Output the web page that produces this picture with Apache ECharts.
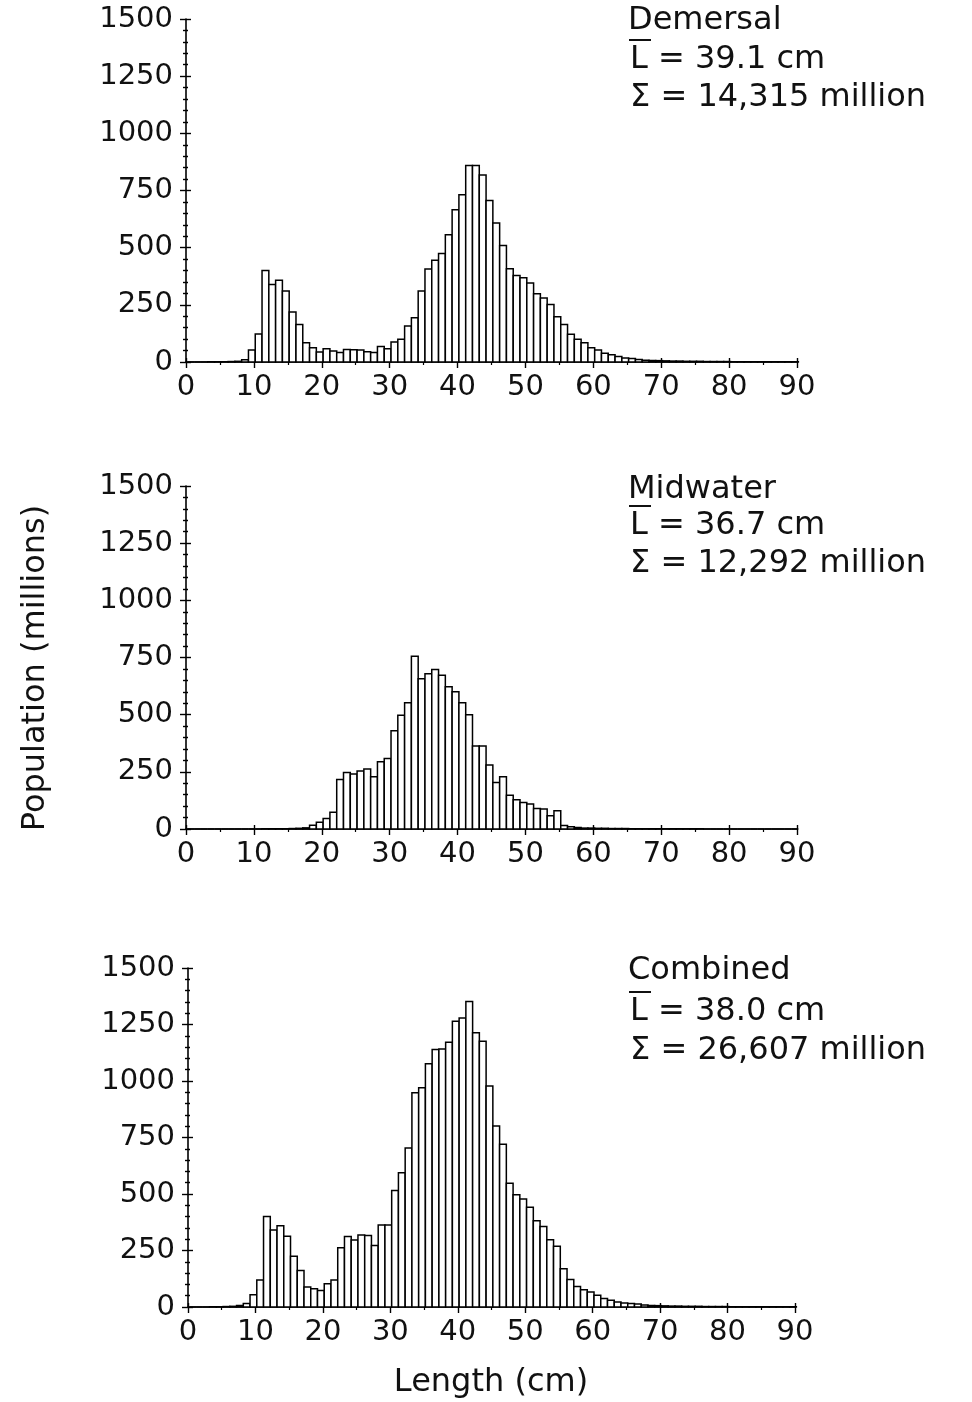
<!DOCTYPE html>
<html>
<head>
<meta charset="utf-8">
<script src="https://cdn.jsdelivr.net/npm/echarts@6/dist/echarts.min.js"></script>
<style>html,body{margin:0;padding:0;background:#fff}#c{width:972px;height:1402px}</style>
</head>
<body>
<div id="c"></div>
<script>
// Length classes (cm)
const lengths = [0,1,2,3,4,5,6,7,8,9,10,11,12,13,14,15,16,17,18,19,20,21,22,23,24,25,26,27,28,29,
30,31,32,33,34,35,36,37,38,39,40,41,42,43,44,45,46,47,48,49,50,51,52,53,54,55,56,57,58,59,
60,61,62,63,64,65,66,67,68,69,70,71,72,73,74,75,76,77,78,79,80,81,82,83,84,85,86,87,88,89];

const demersal = [0,0,0,1,1,1,2,3, 10,52,122,400,339,358,310,219, 164,84,62,44,58,48,41,55,
54,52,45,42,68,58,87,100, 157,193,310,407,445,474,557,666, 731,859,859,818,706,608,509,408,
378,368,346,298,280,251,198,164, 121,99,84,62,52,38,32,24, 18,15,11,8,7,6,5,4,
4,3,3,3,2,2,2,2, 1,1,1,1,1,1,1,1,1,1];

const midwater = [0,0,0,0,0,0,0,0, 0,0,0,1,1,1,1,2, 3,5,16,29,46,73,217,247,
240,254,262,228,294,308,430,497, 552,756,657,679,698,672,622,600, 552,500,363,363,280,203,228,148,
128,116,109,90,87,58,80,15, 10,7,4,4,3,3,2,2, 2,1,1,1,1,1,1,1,
1,1,1,1,0,0,0,0, 0,0,0,0,0,0,0,0,0,0];

const combined = [0,0,0,1,1,2,3,7, 15,54,120,400,341,360,313,225, 162,88,81,73,103,120,262,312,
297,319,316,272,363,363,516,594, 704,948,970,1076,1139,1142,1172,1264, 1279,1352,1213,1176,978,801,720,548,
497,478,441,382,356,298,269,169, 122,91,76,66,52,38,30,22, 18,15,13,9,7,6,5,4,
4,3,3,3,2,2,2,2, 1,1,1,1,1,1,1,1,1,1];

const xTicks = [0,10,20,30,40,50,60,70,80,90];
const yTicks = [0,250,500,750,1000,1250,1500];

const panels = [
  {name:'Demersal', mean:'39.1', total:'14,315', data:demersal},
  {name:'Midwater', mean:'36.7', total:'12,292', data:midwater},
  {name:'Combined', mean:'38.0', total:'26,607', data:combined}
];

const FONT = "'DejaVu Sans'";
const grids = [
  {left:186, top:19, width:611, height:343},
  {left:186, top:486, width:611, height:343},
  {left:188, top:968, width:607, height:339}
];
const textY = [[21,60,98],[490,526,564],[971,1012,1051]];
const OFFSET = 0.2;

const option = {
  animation:false,
  backgroundColor:'#fff',
  grid: grids,
  xAxis: [], yAxis: [], series: [], graphic: []
};

grids.forEach((g,i)=>{
  const axLine = {show:true, lineStyle:{color:'#000', width:1.6}};
  option.xAxis.push({
    gridIndex:i, type:'value', min:0, max:90, interval:10,
    axisLine:axLine,
    axisTick:{show:true, length:6, lineStyle:{color:'#000', width:1.4}},
    minorTick:{show:true, splitNumber:2, length:3, lineStyle:{color:'#000', width:1.2}},
    splitLine:{show:false},
    axisLabel:{show:true, margin:11, fontFamily:FONT, fontSize:29, color:'#111',
      formatter:v=> xTicks.includes(v) ? String(v) : ''}
  });
  option.xAxis.push({
    gridIndex:i, type:'value', min:0, max:90, interval:10, position:'bottom',
    axisLine:{show:false}, axisTick:{show:true, inside:true, length:4, lineStyle:{color:'#000', width:1.4}},
    splitLine:{show:false}, axisLabel:{show:false}
  });
  option.yAxis.push({
    gridIndex:i, type:'value', min:0, max:1500, interval:250,
    axisLine:axLine,
    axisTick:{show:true, length:6, lineStyle:{color:'#000', width:1.4}},
    minorTick:{show:true, splitNumber:5, length:3, lineStyle:{color:'#000', width:1.4}},
    splitLine:{show:false},
    axisLabel:{show:true, margin:13, fontFamily:FONT, fontSize:29, color:'#111',
      formatter:v=> yTicks.includes(v) ? String(v) : ''}
  });
  option.yAxis.push({
    gridIndex:i, type:'value', min:0, max:1500, interval:250, position:'left',
    axisLine:{show:false}, axisTick:{show:true, inside:true, length:5, lineStyle:{color:'#000', width:1.4}},
    minorTick:{show:true, splitNumber:5, length:2, lineStyle:{color:'#000', width:1.4}},
    splitLine:{show:false}, axisLabel:{show:false}
  });
  option.series.push({
    type:'custom', xAxisIndex:i*2, yAxisIndex:i*2,
    data: lengths.map((L,k)=>[L, panels[i].data[k]]),
    renderItem:(params, api)=>{
      const x = api.value(0), v = api.value(1);
      const p0 = api.coord([x+OFFSET, 0]);
      const p1 = api.coord([x+1+OFFSET, v]);
      return {type:'rect',
        shape:{x:p0[0], y:p1[1], width:p1[0]-p0[0], height:p0[1]-p1[1]},
        style:{fill:'#fff', stroke:'#000', lineWidth:1.5}};
    }
  });
  const p = panels[i];
  const lines = [p.name, 'L = ' + p.mean + ' cm', '\u03A3 = ' + p.total + ' million'];
  lines.forEach((t,j)=>{
    option.graphic.push({type:'text', x:j===0?628:630, y:textY[i][j],
      style:{text:t, fontFamily:FONT, fontSize:32, fill:'#111', textAlign:'left', textVerticalAlign:'middle'}});
  });
  // overbar of the mean-length symbol
  option.graphic.push({type:'line', shape:{x1:629, y1:textY[i][1]-20, x2:651, y2:textY[i][1]-20},
    style:{stroke:'#111', lineWidth:2}});
});

option.graphic.push({type:'text', x:36, y:668, rotation:Math.PI/2,
  style:{text:'Population (millions)', fontFamily:FONT, fontSize:32, fill:'#111', textAlign:'center', textVerticalAlign:'middle'}});
option.graphic.push({type:'text', x:491, y:1383,
  style:{text:'Length (cm)', fontFamily:FONT, fontSize:32, fill:'#111', textAlign:'center', textVerticalAlign:'middle'}});

const chart = echarts.init(document.getElementById('c'), null, {renderer:'canvas'});
chart.setOption(option);
</script>
</body>
</html>
